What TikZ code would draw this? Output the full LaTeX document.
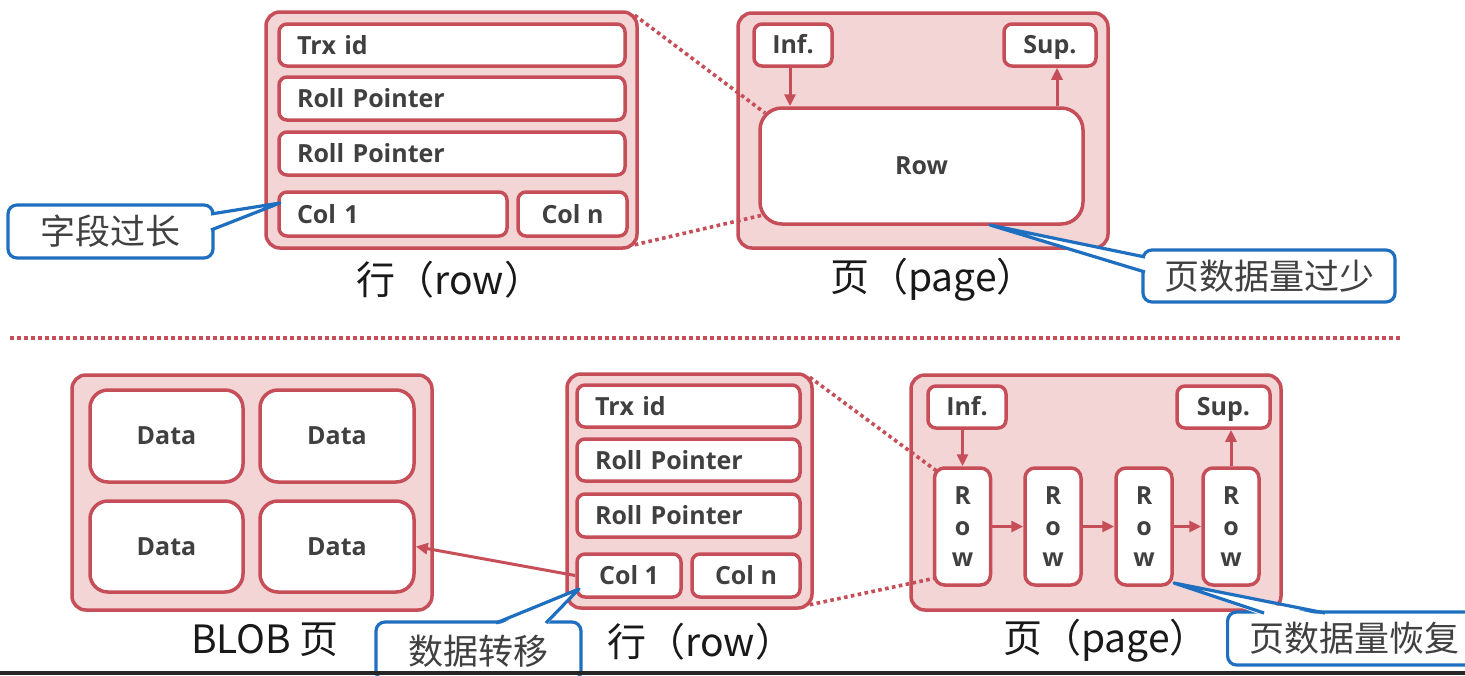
\documentclass[tikz,border=0pt]{standalone}
\usepackage{fontspec}
\usetikzlibrary{arrows.meta,calc}
\newfontfamily\sansbox{Open Sans}
\newfontfamily\cjk{Noto Sans CJK SC}
\newcommand\fldfont{\sansbox\bfseries\fontsize{25}{31}\selectfont}
\definecolor{rd}{HTML}{C64E58}
\definecolor{pk}{HTML}{F3D5D6}
\definecolor{bl}{HTML}{1F6FC0}
\definecolor{tx}{HTML}{404040}
\begin{document}
\begin{tikzpicture}[x=1pt,y=-1pt,
 panel/.style={draw=rd,line width=3.5pt,fill=pk,rounded corners=14pt,inner sep=0pt},
 fld/.style={draw=rd,line width=3.5pt,fill=white,rounded corners=8pt,inner sep=0pt,text=tx,font=\fldfont},
 lfld/.style={fld,inner xsep=18pt,align=left},
 ifld/.style={fld,text height=20pt,text depth=4pt},
 callout/.style={draw=bl,line width=3.2pt,fill=white,rounded corners=9pt,inner sep=0pt,text=tx,font=\cjk\fontsize{35}{38}\selectfont},
 lbl/.style={font=\cjk\fontsize{39}{42}\selectfont,text=black!90,inner sep=0pt},
 arr/.style={draw=rd,line width=3pt,-{Triangle[length=12pt,width=11pt]}},
 dots/.style={draw=rd,line width=3.6pt,dash pattern=on 3.6pt off 3.4pt},
 tail/.style={draw=bl,line width=3.2pt,line join=round}]
\useasboundingbox (0,0) rectangle (1465,675);
\clip (0,0) rectangle (1465,675);
\fill[white] (0,0) rectangle (1465,675);

% ---------- top: row ----------
\node[panel,minimum width=371pt,minimum height=236pt] (rowA) at (451.5,130) {};
% ---------- top: page ----------
\node[panel,minimum width=370pt,minimum height=235pt] (pageA) at (923,130.5) {};

\draw[dots] ([shift={(-4,5)}]rowA.north east) -- (765,113) coordinate (dA1);
\draw[dots] ([shift={(-4,-5)}]rowA.south east) -- (763,215) coordinate (dA2);

\node[lfld,text width=310pt,minimum height=42pt] (trxA) at (452,45) {Trx id};
\node[lfld,text width=310pt,minimum height=43pt] (rp1A) at (452,98.5) {Roll Pointer};
\node[lfld,text width=310pt,minimum height=43pt] (rp2A) at (452,153.5) {Roll Pointer};
\node[lfld,text width=192pt,minimum height=44pt] (c1A) at (393,214) {Col 1};
\node[fld,minimum width=109pt,minimum height=44pt] (cnA) at (572.5,214) {Col n};

\node[ifld,minimum width=78pt,minimum height=42pt] (infA) at (793,45) {Inf.};
\node[ifld,minimum width=92pt,minimum height=42pt] (supA) at (1050,45) {Sup.};
\node[fld,rounded corners=22pt,minimum width=323pt,minimum height=116pt] (rowbA) at (921.5,166) {Row};
\draw[arr] ([xshift=-3pt]infA.south) -- ([xshift=-3pt]infA.south |- rowbA.north);
\draw[arr] ([xshift=7pt]supA.south |- rowbA.north) -- ([xshift=7pt]supA.south);

\node[lbl] (lrowA) at (450,280) {行（row）};
\node[lbl] (lpageA) at (933,280) {页（page）};

% callout 1
\node[callout,minimum width=205pt,minimum height=53pt] (coA) at (110.5,231.5) {字段过长};
\coordinate (tipA) at (280,203);
\fill[white] (207,214) -- (tipA) -- (207,230) -- cycle;
\draw[tail] (211,214) -- (tipA) -- (211,230);

% callout 2
\node[callout,minimum width=252pt,minimum height=52pt] (coB) at (1269,276) {页数据量过少};
\coordinate (tipB) at (990,225);
\fill[white] (1147,257) -- (tipB) -- (1147,272) -- cycle;
\draw[tail] (1145,257) -- (tipB) -- (1145,272);

% separator
\coordinate (sepL) at (10,338);
\coordinate (sepR) at (1400,338);
\draw[dots] (sepL) -- (sepR);

% ---------- bottom: BLOB ----------
\node[panel,minimum width=360pt,minimum height=235pt] (blob) at (252,492.5) {};
\node[fld,rounded corners=18pt,minimum width=153pt,minimum height=92pt] (dTL) at (166.5,436) {Data};
\node[fld,rounded corners=18pt,minimum width=154pt,minimum height=92pt] (dTR) at (337,436) {Data};
\node[fld,rounded corners=18pt,minimum width=153pt,minimum height=91pt] (dBL) at (166.5,546.5) {Data};
\node[fld,rounded corners=18pt,minimum width=154pt,minimum height=91pt] (dBR) at (337,546.5) {Data};
\node[lbl] (lblob) at (265,640) {BLOB 页};

% ---------- bottom: row ----------
\node[panel,minimum width=245pt,minimum height=234pt] (rowB) at (689.5,491) {};
% ---------- bottom: page ----------
\node[panel,minimum width=370pt,minimum height=235pt] (pageB) at (1096,492.5) {};

\draw[dots] ([shift={(-4,5)}]rowB.north east) -- (938,472) coordinate (dB1);
\draw[dots] ([shift={(-4,-5)}]rowB.south east) -- (936,578) coordinate (dB2);

\node[lfld,text width=187pt,minimum height=42pt] (trxB) at (688.5,406) {Trx id};
\node[lfld,text width=187pt,minimum height=42pt] (rp1B) at (688.5,460) {Roll Pointer};
\node[lfld,text width=187pt,minimum height=43pt] (rp2B) at (688.5,515.5) {Roll Pointer};
\node[fld,minimum width=104pt,minimum height=43pt] (c1B) at (629,575.5) {Col 1};
\node[fld,minimum width=108pt,minimum height=43pt] (cnB) at (746,575.5) {Col n};
\node[lbl] (lrowB) at (701,642) {行（row）};

\draw[arr] (c1B.west) -- (dBR.east);

\node[ifld,minimum width=78pt,minimum height=42pt] (infB) at (967,407) {Inf.};
\node[ifld,minimum width=93pt,minimum height=42pt] (supB) at (1223.5,407) {Sup.};
\foreach \n/\x in {1/962.5,2/1053,3/1144,4/1231}{
  \node[fld,rounded corners=10pt,minimum width=56pt,minimum height=117pt,align=center,font=\sansbox\bfseries\fontsize{25}{31}\selectfont] (r\n) at (\x,526.5) {R\\o\\w};
}
\draw[arr] (r1) -- (r2);
\draw[arr] (r2) -- (r3);
\draw[arr] (r3) -- (r4);
\draw[arr] (infB.south -| r1.north) -- (r1.north);
\draw[arr] (r4.north) -- (r4.north |- supB.south);
\node[lbl] (lpageB) at (1106,641) {页（page）};

% callout 3
\node[callout,minimum width=205pt,minimum height=58pt] (coC) at (478.5,651) {\raisebox{3pt}{数据转移}};
\coordinate (tipC) at (579,589);
\fill[white] (496,626) -- (tipC) -- (546,626) -- cycle;
\draw[tail] (496,623) -- (tipC) -- (546,623);

% callout 4
\node[callout,inner xsep=22pt,minimum height=53pt,anchor=west] (coD) at (1226,638.5) {页数据量恢复};
\coordinate (tipD) at (1174,583);
\fill[white] (1264,616) -- (tipD) -- (1325,616) -- cycle;
\draw[tail] (1264,613) -- (tipD) -- (1325,613);

\fill[black!85] (0,671) rectangle (1465,675);
\end{tikzpicture}
\end{document}
